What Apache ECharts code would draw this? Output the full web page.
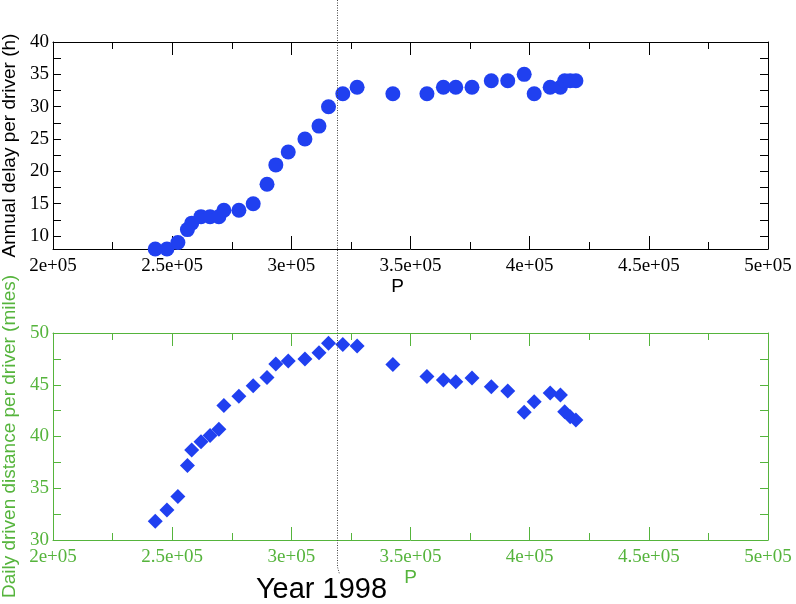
<!DOCTYPE html>
<html>
<head>
<meta charset="utf-8">
<script src="https://cdn.jsdelivr.net/npm/echarts@6/dist/echarts.min.js"></script>
<style>html,body{margin:0;padding:0;background:#fff;}#c{width:796px;height:604px;}</style>
</head>
<body>
<div id="c"></div>
<script>
const P = [242900, 247800, 252400, 256400, 258200, 262100, 265900, 269600, 271700, 278000, 284000, 289800, 293500, 298700, 305700, 311600, 315600, 321600, 327600, 342600, 356900, 363800, 369000, 375800, 383900, 390800, 397700, 401900, 408600, 412900, 414700, 417000, 419400];
const delay = [8, 8, 9, 11, 12, 13, 13, 13, 14, 14, 15, 18, 21, 23, 25, 27, 30, 32, 33, 32, 32, 33, 33, 33, 34, 34, 35, 32, 33, 33, 34, 34, 34];
const distance = [31.8, 32.9, 34.2, 37.2, 38.7, 39.5, 40.1, 40.7, 43.0, 43.9, 44.9, 45.7, 47.0, 47.3, 47.5, 48.1, 49.0, 48.9, 48.75, 46.95, 45.8, 45.45, 45.3, 45.65, 44.8, 44.4, 42.35, 43.35, 44.2, 44.0, 42.4, 41.9, 41.6];
const delayLabelTicks = [10, 15, 20, 25, 30, 35, 40];
const delayAllTicks = [10, 12.5, 15, 17.5, 20, 22.5, 25, 27.5, 30, 32.5, 35, 37.5, 40];
const yearLineP = 319300;
const yearLabel = 'Year 1998';

const BLUE = '#2040f0';
const GREEN = '#55b43c';
const BLACK = '#000';
const serif = 'Liberation Serif';
const sans = 'Liberation Sans';

function fmtX(v) {
  const m = Math.round(v / 1e5 * 100) / 100;
  return m + 'e+05';
}

function xAx(grid, color, pos, showLabel, name, namePad) {
  return {
    type: 'value', gridIndex: grid, position: pos, min: 200000, max: 500000, interval: 50000,
    axisLine: { show: true, onZero: false, lineStyle: { color: color, width: 1 } },
    axisTick: { show: true, inside: true, length: 13, lineStyle: { color: color } },
    minorTick: { show: true, splitNumber: 2, length: 7, lineStyle: { color: color } },
    splitLine: { show: false },
    axisLabel: { show: showLabel, formatter: fmtX, color: color, fontFamily: serif, fontSize: 19, margin: 8 },
    name: name || '', nameLocation: 'middle', nameGap: 26,
    nameTextStyle: { color: color, fontFamily: sans, fontSize: 19, padding: namePad || 0 }
  };
}

const option = {
  animation: false,
  backgroundColor: '#fff',
  grid: [
    { left: 53, right: 28, top: 42, height: 207, outerBoundsMode: 'none', containLabel: false },
    { left: 53, right: 28, top: 333, height: 207, outerBoundsMode: 'none', containLabel: false }
  ],
  xAxis: [
    xAx(0, BLACK, 'bottom', true, 'P', [0, 26, 0, 0]),
    xAx(0, BLACK, 'top', false),
    xAx(1, GREEN, 'bottom', true, 'P'),
    xAx(1, GREEN, 'top', false)
  ],
  yAxis: [
    {
      type: 'value', gridIndex: 0, position: 'left', min: 8, max: 40,
      axisLine: { show: true, onZero: false, lineStyle: { color: BLACK } },
      axisTick: { show: true, inside: true, length: 8, customValues: delayAllTicks, lineStyle: { color: BLACK } },
      splitLine: { show: false },
      axisLabel: { show: true, customValues: delayLabelTicks, color: BLACK, fontFamily: serif, fontSize: 19, margin: 4 },
      name: 'Annual delay per driver (h)', nameLocation: 'middle', nameRotate: 90, nameGap: 32,
      nameTextStyle: { color: BLACK, fontFamily: sans, fontSize: 19 }
    },
    {
      type: 'value', gridIndex: 0, position: 'right', min: 8, max: 40,
      axisLine: { show: true, onZero: false, lineStyle: { color: BLACK } },
      axisTick: { show: true, inside: true, length: 8, customValues: delayAllTicks, lineStyle: { color: BLACK } },
      splitLine: { show: false },
      axisLabel: { show: false }
    },
    {
      type: 'value', gridIndex: 1, position: 'left', min: 30, max: 50, interval: 5,
      axisLine: { show: true, onZero: false, lineStyle: { color: GREEN } },
      axisTick: { show: true, inside: true, length: 8, lineStyle: { color: GREEN } },
      minorTick: { show: true, splitNumber: 2, length: 8, lineStyle: { color: GREEN } },
      splitLine: { show: false },
      axisLabel: { show: true, color: GREEN, fontFamily: serif, fontSize: 19, margin: 4 },
      name: 'Daily driven distance per driver (miles)', nameLocation: 'middle', nameRotate: 90, nameGap: 32,
      nameTextStyle: { color: GREEN, fontFamily: sans, fontSize: 19 }
    },
    {
      type: 'value', gridIndex: 1, position: 'right', min: 30, max: 50, interval: 5,
      axisLine: { show: true, onZero: false, lineStyle: { color: GREEN } },
      axisTick: { show: true, inside: true, length: 8, lineStyle: { color: GREEN } },
      minorTick: { show: true, splitNumber: 2, length: 8, lineStyle: { color: GREEN } },
      splitLine: { show: false },
      axisLabel: { show: false }
    }
  ],
  series: [
    {
      type: 'scatter', xAxisIndex: 0, yAxisIndex: 0, symbol: 'circle', symbolSize: 15,
      itemStyle: { color: BLUE, opacity: 1 },
      data: P.map((p, i) => [p, delay[i]])
    },
    {
      type: 'scatter', xAxisIndex: 2, yAxisIndex: 2, symbol: 'diamond', symbolSize: 15,
      itemStyle: { color: BLUE, opacity: 1 },
      data: P.map((p, i) => [p, distance[i]])
    }
  ]
};

const chart = echarts.init(document.getElementById('c'), null, { renderer: 'canvas' });
chart.setOption(option);

const lx = Math.round(chart.convertToPixel({ xAxisIndex: 0 }, yearLineP)) + 0.5;
chart.setOption({
  graphic: [
    {
      type: 'polyline', silent: true, z: 100,
      shape: { points: [[lx, 0], [lx, 567], [lx + 2, 574]] },
      style: { stroke: '#444', lineWidth: 1, lineDash: [1, 1.5], fill: null }
    },
    {
      type: 'text', silent: true, z: 100,
      style: { text: yearLabel, x: lx - 16, y: 590, align: 'center', verticalAlign: 'middle',
        font: '29px "Liberation Sans"', fill: '#000' }
    }
  ]
});
</script>
</body>
</html>
